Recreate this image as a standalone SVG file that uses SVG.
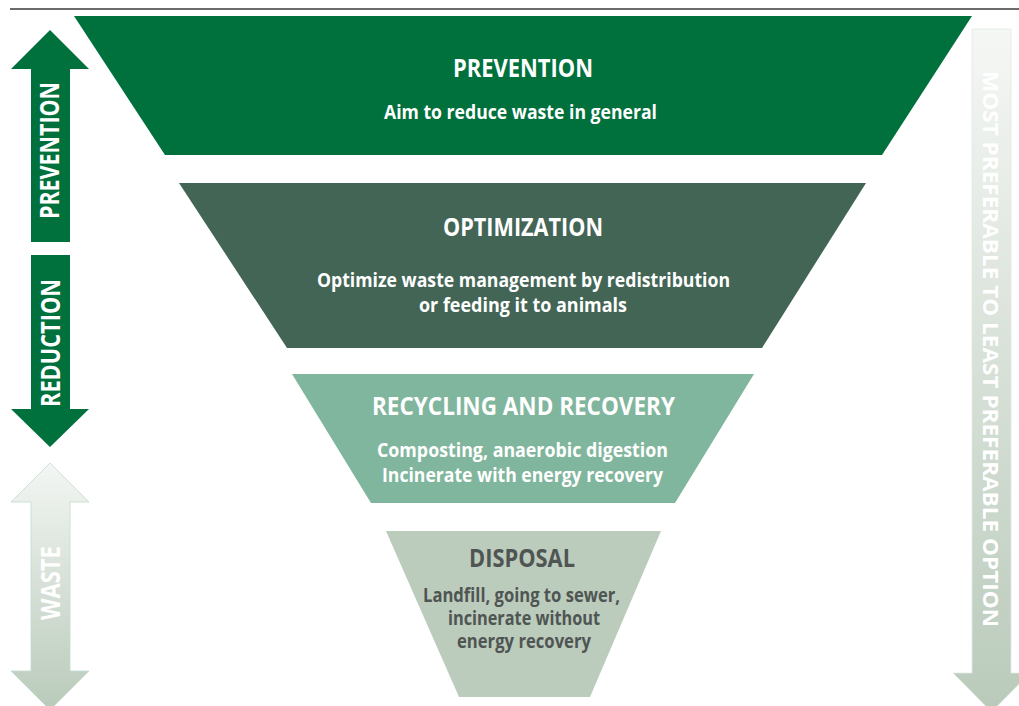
<svg xmlns="http://www.w3.org/2000/svg" width="1019" height="706" viewBox="0 0 1019 706">
  <defs>
    <linearGradient id="gWaste" x1="0" y1="0" x2="0" y2="1">
      <stop offset="0" stop-color="#F3F6F3"/>
      <stop offset="1" stop-color="#B9CABA"/>
    </linearGradient>
    <linearGradient id="gRight" x1="0" y1="0" x2="0" y2="1">
      <stop offset="0" stop-color="#F5F7F5"/>
      <stop offset="1" stop-color="#B9CABA"/>
    </linearGradient>
  </defs>
  <style>
    text { font-family: "Open Sans", "Liberation Sans", sans-serif; font-weight: 700; text-anchor: middle; }
    .title { font-size: 25px; fill: #FFFFFF; }
    .body { font-size: 20px; fill: #FFFFFF; }
    .small { font-size: 19px; }
    .side { font-size: 26px; fill: #FFFFFF; }
    .rside { font-size: 21px; fill: #FFFFFF; }
    .dark { fill: #4F5553; }
  </style>
  <rect width="1019" height="706" fill="#FFFFFF"/>
  <line x1="10" y1="9" x2="1019" y2="9" stroke="#3A3A3A" stroke-width="1.5"/>

  <g id="node-prevention">
    <polygon points="74,16 972,16 882,155 165,155" fill="#00703C"/>
    <text class="title" x="523" y="77" textLength="140" lengthAdjust="spacingAndGlyphs">PREVENTION</text>
    <text class="body" x="520.5" y="119" textLength="273" lengthAdjust="spacingAndGlyphs">Aim to reduce waste in general</text>
  </g>

  <g id="node-optimization">
    <polygon points="179,183 866,183 762,348 287,348" fill="#436555"/>
    <text class="title" x="523" y="236" textLength="160" lengthAdjust="spacingAndGlyphs">OPTIMIZATION</text>
    <text class="body" x="523.5" y="287" textLength="413" lengthAdjust="spacingAndGlyphs">Optimize waste management by redistribution</text>
    <text class="body" x="523" y="312" textLength="208" lengthAdjust="spacingAndGlyphs">or feeding it to animals</text>
  </g>

  <g id="node-recycling">
    <polygon points="292,374 754,374 675,503 371,503" fill="#80B69D"/>
    <text class="title" x="523.5" y="415" textLength="303" lengthAdjust="spacingAndGlyphs">RECYCLING AND RECOVERY</text>
    <text class="body" x="522.5" y="457" textLength="291" lengthAdjust="spacingAndGlyphs">Composting, anaerobic digestion</text>
    <text class="body" x="522.5" y="482" textLength="281" lengthAdjust="spacingAndGlyphs">Incinerate with energy recovery</text>
  </g>

  <g id="node-disposal">
    <polygon points="386,531 661,531 590,697 459,697" fill="#BBCBBC"/>
    <text class="title dark" x="522" y="567" textLength="106" lengthAdjust="spacingAndGlyphs">DISPOSAL</text>
    <text class="body small dark"><tspan x="521.5" y="602" textLength="197" lengthAdjust="spacingAndGlyphs">Landfill, going to sewer,</tspan><tspan x="524" y="625" textLength="152" lengthAdjust="spacingAndGlyphs">incinerate without</tspan><tspan x="524" y="648" textLength="134" lengthAdjust="spacingAndGlyphs">energy recovery</tspan></text>
  </g>

  <g id="connectors">
    <g id="arrow-prevention">
      <polygon points="50,30 89,69 70,69 70,242 31,242 31,69 11,69" fill="#00703C"/>
      <text class="side" transform="translate(59,150.5) rotate(-90)" x="0" y="0" textLength="137" lengthAdjust="spacingAndGlyphs">PREVENTION</text>
    </g>
    <g id="arrow-reduction">
      <polygon points="31,255 70,255 70,409 89,409 50,447 11,409 31,409" fill="#00703C"/>
      <text class="side" transform="translate(60,343) rotate(-90)" x="0" y="0" textLength="128" lengthAdjust="spacingAndGlyphs">REDUCTION</text>
    </g>
    <g id="arrow-waste">
      <polygon points="50,463 89,502 70,502 70,671 89,671 50,710 11,671 31,671 31,502 11,502" fill="url(#gWaste)" stroke="#C2DCCF" stroke-width="0.8"/>
      <text class="side" transform="translate(60,583) rotate(-90)" x="0" y="0" textLength="74" lengthAdjust="spacingAndGlyphs">WASTE</text>
    </g>
    <g id="arrow-preference">
      <polygon points="972,29 1011,29 1011,673 1030,673 991.5,712 953,673 972,673" fill="url(#gRight)" stroke="#E2EAE3" stroke-width="0.8"/>
      <text class="rside" transform="translate(983,349) rotate(90)" x="0" y="0" textLength="556" lengthAdjust="spacingAndGlyphs">MOST PREFERABLE TO LEAST PREFERABLE OPTION</text>
    </g>
  </g>
</svg>
